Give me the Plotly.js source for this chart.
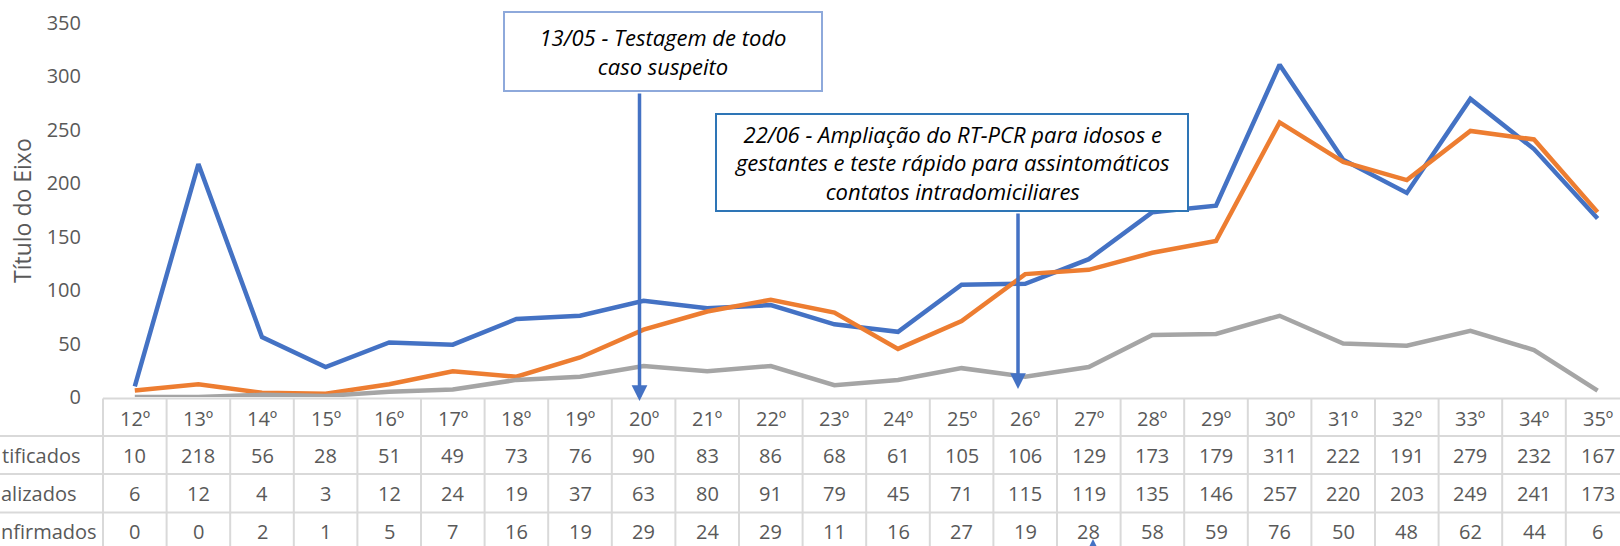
<!DOCTYPE html>
<html>
<head>
<meta charset="utf-8">
<script src="https://cdn.plot.ly/plotly-3.0.1.min.js"></script>
<style>
html,body{margin:0;padding:0;background:#fff;overflow:hidden;}
#chart{width:1620px;height:546px;}
</style>
</head>
<body>
<div id="chart"></div>
<script>
// ---- data ----
const categories = ['12º','13º','14º','15º','16º','17º','18º','19º','20º','21º','22º','23º','24º','25º','26º','27º','28º','29º','30º','31º','32º','33º','34º','35º'];
const notificados = [10,218,56,28,51,49,73,76,90,83,86,68,61,105,106,129,173,179,311,222,191,279,232,167];
const realizados  = [6,12,4,3,12,24,19,37,63,80,91,79,45,71,115,119,135,146,257,220,203,249,241,173];
const confirmados = [0,0,2,1,5,7,16,19,29,24,29,11,16,27,19,28,58,59,76,50,48,62,44,6];
// row labels as visible in the (cropped) reference
const rowLabels = ['tificados','alizados','nfirmados'];
const yTicks = [0,50,100,150,200,250,300,350];
const axisTitle = 'Título do Eixo';
const note1 = '13/05 - Testagem de todo<br>caso suspeito';
const note2 = '22/06 - Ampliação do RT-PCR para idosos e<br>gestantes e teste rápido para assintomáticos<br>contatos intradomiciliares';

// ---- layout geometry ----
const W = 1620, H = 546, L = 103, R = 0, T = 23, B = 149;
const plotW = W - L - R, plotH = H - T - B;
const colW = 63.6;
const xr = [-0.5, -0.5 + plotW / colW];
const px2x = px => (px - L) / plotW;          // pixel -> paper x
const py2y = py => (H - B - py) / plotH;      // pixel -> paper y
const idx = categories.map((c, i) => i);

const FONT = '"Open Sans", "Noto Sans", sans-serif';
const GREY = '#595959';
const GRID = '#D9D9D9';

const traces = [
  {x: idx, y: notificados, name: 'Notificados', mode: 'lines', line: {color: '#4472C4', width: 4.5}, cliponaxis: false},
  {x: idx, y: realizados,  name: 'Realizados', mode: 'lines', line: {color: '#ED7D31', width: 4.5}, cliponaxis: false},
  {x: idx, y: confirmados, name: 'Confirmados', mode: 'lines', line: {color: '#A5A5A5', width: 4.5}, cliponaxis: false}
];

// ---- table grid ----
const shapes = [];
const tableTop = 398.5, rowLines = [436, 474, 512.5];
shapes.push({type: 'line', xref: 'paper', yref: 'paper', x0: 0, x1: 1, y0: py2y(tableTop), y1: py2y(tableTop), line: {color: GRID, width: 2}});
rowLines.forEach(py => shapes.push({type: 'line', xref: 'paper', yref: 'paper', x0: px2x(0), x1: 1, y0: py2y(py), y1: py2y(py), line: {color: GRID, width: 2}}));
for (let k = 0; k <= categories.length; k++) {
  const xp = (k - 0.5 - xr[0]) / (xr[1] - xr[0]);
  if (xp > 1.001) break;
  shapes.push({type: 'line', xref: 'paper', yref: 'paper', x0: xp, x1: xp, y0: py2y(tableTop), y1: py2y(H + 5), line: {color: GRID, width: 2}});
}

// ---- table text ----
const annotations = [];
const rowY = [418, 455, 493, 531];
const rows = [categories, notificados, realizados, confirmados];
rows.forEach((row, r) => {
  row.forEach((v, i) => annotations.push({
    x: i, xref: 'x', y: py2y(rowY[r]), yref: 'paper', text: String(v), showarrow: false,
    xanchor: 'center', yanchor: 'middle', font: {family: FONT, size: 20, color: GREY}
  }));
});
const labelLeft = [1, 0, 0];
rowLabels.forEach((t, r) => annotations.push({
  x: px2x(labelLeft[r]), xref: 'paper', y: py2y(rowY[r + 1]), yref: 'paper', text: t, showarrow: false,
  xanchor: 'left', yanchor: 'middle', borderpad: 0, font: {family: FONT, size: 20, color: GREY}
}));

// axis title
annotations.push({x: px2x(22), xref: 'paper', y: py2y(211), yref: 'paper', text: axisTitle, textangle: -90,
  showarrow: false, xanchor: 'center', yanchor: 'middle', font: {family: FONT, size: 23, color: GREY}});

// arrows
const arrow = (px, py, tailDy) => ({x: px2x(px), xref: 'paper', y: py2y(py), yref: 'paper', text: '',
  showarrow: true, ax: 0, ay: tailDy, arrowhead: 2, arrowsize: 0.9, arrowwidth: 3.5, arrowcolor: '#4472C4', standoff: 0});
annotations.push(arrow(639.5, 401, -309));
annotations.push(arrow(1018, 389, -177));
annotations.push(arrow(1093, 539, 40));

// note boxes
annotations.push({x: px2x(663), xref: 'paper', y: py2y(51.5), yref: 'paper', text: '<i>' + note1 + '</i>', showarrow: false,
  xanchor: 'center', yanchor: 'middle', width: 316, height: 77, borderpad: 0, borderwidth: 2, bordercolor: '#8EA9DB', bgcolor: '#fff',
  align: 'center', valign: 'middle', font: {family: FONT, size: 22, color: '#000'}});
annotations.push({x: px2x(952), xref: 'paper', y: py2y(162.5), yref: 'paper', text: '<i>' + note2 + '</i>', showarrow: false,
  xanchor: 'center', yanchor: 'middle', width: 470, height: 95, borderpad: 0, borderwidth: 2, bordercolor: '#2E75B6', bgcolor: '#fff',
  align: 'center', valign: 'middle', font: {family: FONT, size: 22, color: '#000'}});

const layout = {
  width: W, height: H,
  margin: {l: L, r: R, t: T, b: B, pad: 0},
  paper_bgcolor: '#fff', plot_bgcolor: '#fff',
  showlegend: false,
  font: {family: FONT, color: GREY},
  xaxis: {range: xr, showgrid: false, zeroline: false, showline: false, showticklabels: false, ticks: '', fixedrange: true},
  yaxis: {range: [0, 350], tickvals: yTicks, showgrid: false, zeroline: false, showline: false,
    ticks: 'outside', ticklen: 17, tickcolor: 'rgba(0,0,0,0)', tickfont: {family: FONT, size: 20, color: GREY}, fixedrange: true},
  shapes: shapes,
  annotations: annotations
};

Plotly.newPlot('chart', traces, layout, {displayModeBar: false, staticPlot: true});
</script>
</body>
</html>
